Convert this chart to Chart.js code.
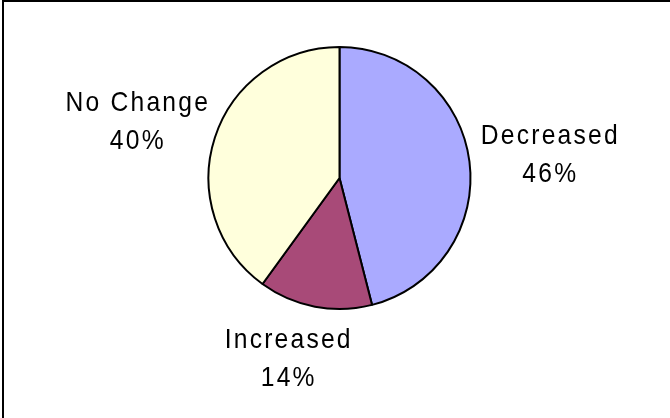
<!DOCTYPE html>
<html>
<head>
<meta charset="utf-8">
<script src="https://cdn.jsdelivr.net/npm/chart.js@4"></script>
<style>
  html, body { margin: 0; padding: 0; background: #fff; }
  #wrap { width: 670px; height: 418px; }
</style>
</head>
<body>
<div id="wrap"><canvas id="chart" width="670" height="418"></canvas></div>
<script>
const categories = ["Decreased", "Increased", "No Change"];
const shares = [46, 14, 40];
const sliceColors = ["#AAAAFF", "#A84A78", "#FFFFDC"];

// frame lines along the top and left edge
const framePlugin = {
  id: "frame",
  beforeDraw(chart) {
    const ctx = chart.ctx;
    ctx.save();
    ctx.fillStyle = "#fff";
    ctx.fillRect(0, 0, chart.width, chart.height);
    ctx.fillStyle = "#000";
    ctx.fillRect(2, 0, chart.width - 2, 2);
    ctx.fillRect(2, 0, 2, chart.height);
    ctx.restore();
  }
};

// outside labels: category on first line, percent on second
const labelPlugin = {
  id: "outsideLabels",
  afterDatasetsDraw(chart, args, opts) {
    const ctx = chart.ctx;
    const arcs = chart.getDatasetMeta(0).data;
    const total = shares.reduce((a, b) => a + b, 0);
    const lineGap = 38;
    const squeeze = 0.88;
    const nudge = opts.nudge || [];
    ctx.save();
    ctx.fillStyle = "#000";
    ctx.font = "28px 'Liberation Sans', Arial, sans-serif";
    ctx.letterSpacing = "2.5px";
    ctx.textAlign = "center";
    ctx.textBaseline = "middle";
    arcs.forEach((arc, i) => {
      const mid = (arc.startAngle + arc.endAngle) / 2;
      const dx = Math.cos(mid);
      const dy = Math.sin(mid);
      const pct = Math.round((shares[i] / total) * 100) + "%";
      const boxW = squeeze * Math.max(ctx.measureText(categories[i]).width, ctx.measureText(pct).width);
      const boxH = lineGap + 22;
      const [nx, ny] = nudge[i] || [0, 0];
      const cx = arc.x + dx * (arc.outerRadius + 12 + boxW / 2) + nx;
      const cy = arc.y + dy * (arc.outerRadius + 20 + boxH / 2) + ny;
      ctx.save();
      ctx.translate(cx + 1, cy);
      ctx.scale(squeeze, 1);
      ctx.fillText(categories[i], 0, -lineGap / 2);
      ctx.fillText(pct, 0, lineGap / 2);
      ctx.restore();
    });
    ctx.restore();
  }
};

new Chart(document.getElementById("chart"), {
  type: "pie",
  data: {
    labels: categories,
    datasets: [
      {
        data: shares,
        backgroundColor: sliceColors,
        borderColor: "#000",
        borderWidth: 2,
        borderAlign: "center"
      }
    ]
  },
  options: {
    responsive: false,
    animation: false,
    devicePixelRatio: 1,
    layout: {
      padding: { top: 46, bottom: 108, left: 150, right: 141 }
    },
    plugins: {
      legend: { display: false },
      tooltip: { enabled: false },
      outsideLabels: { nudge: [[-1, 0], [-13, 3], [2, 0]] }
    }
  },
  plugins: [framePlugin, labelPlugin]
});
</script>
</body>
</html>
